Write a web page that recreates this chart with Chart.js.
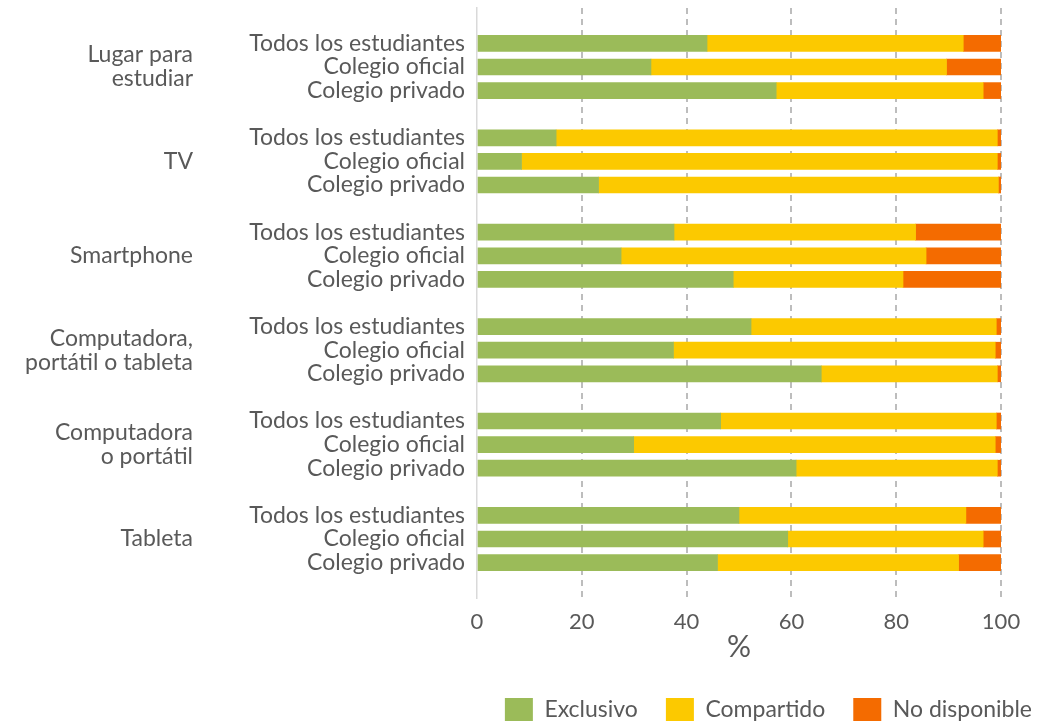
<!DOCTYPE html>
<html>
<head>
<meta charset="utf-8">
<script src="https://cdn.jsdelivr.net/npm/chart.js"></script>
<style>
  html, body { margin: 0; padding: 0; background: #fff; }
  #wrap { width: 1048px; height: 721px; }
</style>
</head>
<body>
<div id="wrap"><canvas id="chart"></canvas></div>
<script>
const groups = [['Lugar para', 'estudiar'], 'TV', 'Smartphone', ['Computadora,', 'portátil o tableta'], ['Computadora', 'o portátil'], 'Tableta'];
const rows = ['Todos los estudiantes', 'Colegio oficial', 'Colegio privado'];

// % per row, group by group (Todos, oficial, privado)
const exclusivo = [43.9, 33.2, 57.1, 15.1, 8.5, 23.2, 37.6, 27.5, 48.9, 52.3, 37.5, 65.7, 46.5, 29.9, 60.9, 50.0, 59.3, 45.9];
const compartido = [48.9, 56.4, 39.5, 84.2, 90.8, 76.3, 46.1, 58.2, 32.4, 46.8, 61.4, 33.6, 52.6, 69.0, 38.4, 43.3, 37.3, 46.0];
const noDisponible = [7.2, 10.4, 3.4, 0.7, 0.7, 0.5, 16.3, 14.3, 18.7, 0.9, 1.1, 0.7, 0.9, 1.1, 0.7, 6.7, 3.4, 8.1];
const xTicks = [0, 20, 40, 60, 80, 100];

// build the category rows, with an empty row between groups
const rowLabels = [], groupLabels = [];
const exData = [], coData = [], ndData = [];
function blankRow() {
    rowLabels.push(''); groupLabels.push('');
    exData.push(null); coData.push(null); ndData.push(null);
}
blankRow();
groups.forEach((g, gi) => {
    if (gi > 0) blankRow();
    rows.forEach((r, ri) => {
        const k = gi * 3 + ri;
        rowLabels.push(r);
        groupLabels.push(ri === 1 ? g : '');
        exData.push(exclusivo[k]);
        coData.push(compartido[k]);
        ndData.push(noDisponible[k]);
    });
});
blankRow();

Chart.defaults.font.family = 'Lato';
Chart.defaults.color = '#595959';

const ctx = document.getElementById('chart').getContext('2d');
const chart = new Chart(ctx, {
    type: 'bar',
    data: {
        labels: rowLabels,
        datasets: [
            { label: 'Exclusivo', data: exData, backgroundColor: '#9bbb59' },
            { label: 'Compartido', data: coData, backgroundColor: '#fcc900' },
            { label: 'No disponible', data: ndData, backgroundColor: '#f46b00' }
        ]
    },
    options: {
        indexAxis: 'y',
        responsive: true,
        maintainAspectRatio: false,
        animation: false,
        layout: { padding: { top: 8, right: -12, left: 0, bottom: 0 } },
        datasets: { bar: { barThickness: 16 } },
        plugins: {
            tooltip: { enabled: false },
            legend: {
                position: 'bottom',
                align: 'end',
                maxHeight: 51,
                labels: { boxWidth: 28, boxHeight: 23, padding: 28, font: { size: 23 } }
            }
        },
        scales: {
            x: {
                stacked: true,
                min: 0,
                max: 100,
                afterBuildTicks: s => { s.ticks = xTicks.map(v => ({ value: v })); },
                afterFit: s => { s.paddingRight = 47; s.height = 72; },
                ticks: { padding: 11, font: { size: 22 } },
                grid: {
                    drawTicks: false,
                    lineWidth: 2,
                    color: c => c.tick && c.tick.value === 0 ? 'rgba(0,0,0,0)' : '#bdbdbd'
                },
                border: { display: false, dash: [6, 5] },
                title: { display: true, text: '%', font: { size: 30, lineHeight: 1 }, padding: { top: 0, bottom: 8 } }
            },
            y: {
                stacked: true,
                weight: 0,
                afterFit: s => { s.width = 229; s.paddingTop = 0; s.paddingBottom = 0; },
                ticks: { padding: 12, font: { size: 23 }, autoSkip: false },
                grid: { display: false, drawTicks: false },
                border: { display: true, color: '#d9d9d9', width: 1.5 }
            },
            y2: {
                type: 'category',
                position: 'left',
                labels: groupLabels,
                offset: true,
                weight: 1,
                afterFit: s => { s.width = 248; s.paddingTop = 0; s.paddingBottom = 0; },
                ticks: { padding: 55, font: { size: 23, lineHeight: 1.05 }, autoSkip: false },
                grid: { display: false, drawTicks: false },
                border: { display: false }
            }
        }
    }
});
</script>
</body>
</html>
